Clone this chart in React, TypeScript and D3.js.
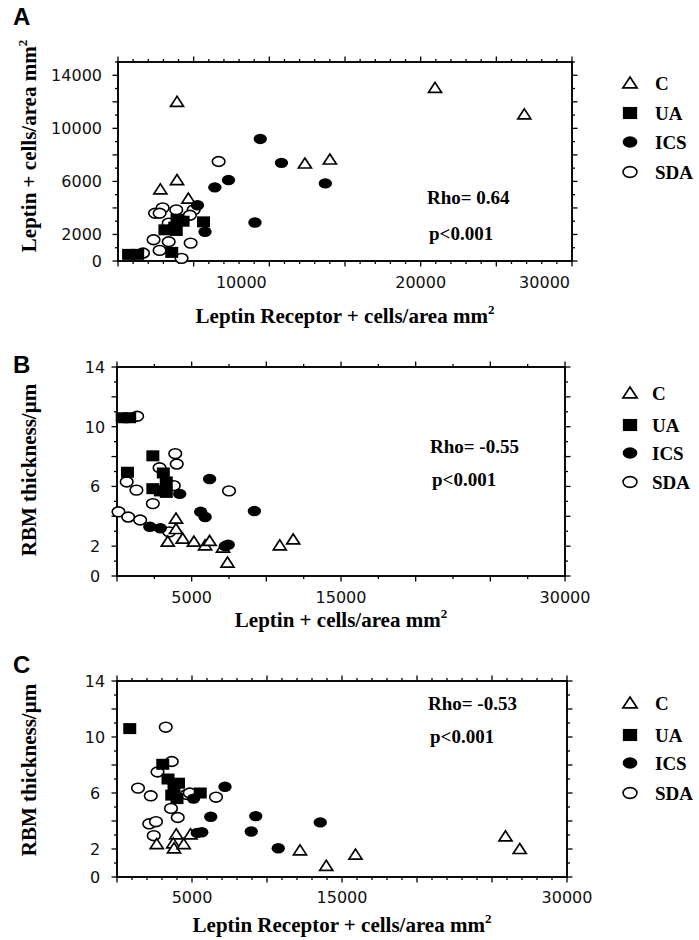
import React from "react";
import * as d3 from "d3";

type Pt = [number, number];

// ---------- DATA ----------
const groups = ["C", "UA", "ICS", "SDA"];

// Panel A: Leptin Receptor+ (x) vs Leptin+ (y), cells/area mm2
const aC: Pt[] = [[3900, 12000], [2800, 5400], [3900, 6100], [4650, 4700], [12350, 7350], [14000, 7650], [20950, 13050], [26850, 11050]];
const aUA: Pt[] = [[700, 500], [1300, 500], [3550, 650], [3100, 2350], [3750, 2550], [3900, 3150], [4300, 3000], [3850, 2300], [5650, 2950]];
const aICS: Pt[] = [[9400, 9200], [10800, 7400], [13700, 5850], [7300, 6100], [6400, 5550], [9050, 2900], [5250, 4200], [5750, 2200]];
const aSDA: Pt[] = [[6650, 7500], [2950, 4000], [2450, 3600], [2750, 3600], [3850, 3850], [5000, 3850], [4750, 3450], [3350, 2850], [2350, 1600], [3350, 1450], [4800, 1350], [2750, 800], [1650, 600], [4200, 200]];

// Panel B: Leptin+ (x) vs RBM thickness (y)
const bC: Pt[] = [[3950, 3.85], [3950, 3.15], [3400, 2.3], [4400, 2.5], [5150, 2.3], [5900, 2.05], [6200, 2.35], [7100, 1.9], [7400, 0.9], [10900, 2.05], [11800, 2.45]];
const bUA: Pt[] = [[350, 10.6], [850, 10.6], [700, 6.95], [2400, 8.05], [2400, 5.85], [3100, 6.9], [3300, 6.3], [3300, 5.6], [2900, 5.7]];
const bICS: Pt[] = [[6200, 6.5], [4200, 5.5], [5600, 4.3], [5900, 3.95], [9200, 4.35], [2200, 3.3], [2900, 3.2], [7450, 2.1], [7250, 2.0]];
const bSDA: Pt[] = [[1350, 10.7], [3900, 8.2], [4000, 7.5], [2850, 7.25], [650, 6.3], [1300, 5.75], [3800, 6.05], [2400, 4.85], [7500, 5.7], [100, 4.3], [750, 3.95], [1550, 3.75], [3500, 2.95]];

// Panel C: Leptin Receptor+ (x) vs RBM thickness (y)
const cC: Pt[] = [[2650, 2.35], [3950, 3.05], [3750, 2.4], [3800, 2.05], [4450, 2.35], [4900, 3.05], [12200, 1.9], [13950, 0.8], [15900, 1.6], [25900, 2.9], [26850, 2.0]];
const cUA: Pt[] = [[850, 10.6], [3050, 8.05], [3400, 7.0], [4100, 6.7], [3650, 5.85], [4000, 5.6], [5550, 6.0], [3800, 6.4]];
const cICS: Pt[] = [[7200, 6.45], [5100, 5.6], [6250, 4.3], [9250, 4.35], [13550, 3.9], [5650, 3.2], [5350, 3.15], [8950, 3.25], [10750, 2.05]];
const cSDA: Pt[] = [[3250, 10.7], [3650, 8.25], [2700, 7.5], [1400, 6.35], [2250, 5.8], [4650, 5.9], [4850, 6.0], [6600, 5.7], [3600, 4.9], [4050, 4.25], [2150, 3.8], [2600, 3.95], [2450, 2.95]];

const rhoTexts = ["Rho= 0.64", "Rho= -0.55", "Rho= -0.53"];
const pText = "p<0.001";

const aYTickLabels = [0, 2000, 6000, 10000, 14000];
const bcYTickLabels = [0, 2, 6, 10, 14];
const aXTickLabels = [10000, 20000, 30000];
const bcXTickLabels = [5000, 15000, 30000];

// ---------- LAYOUT / STYLE ----------
const SERIF = "'Liberation Serif', 'Times New Roman', serif";
const SANS = "'DejaVu Sans', Verdana, sans-serif";
const LSANS = "'Liberation Sans', Arial, sans-serif";

interface XLab { v: number; dx: number; anchor: string }
interface PanelCfg {
  letter: string; letterY: number;
  box: { l: number; r: number; t: number; b: number };
  yMax: number; yMajor: number; yMinor: number;
  xMajor: number; xMinor: number;
  yLabels: number[]; yLabX: number; yLabAnchor: string;
  xLabels: XLab[]; xLabY: number;
  xTitle: string; xTitleY: number;
  yTitle: string; yTitleCY: number;
  series: Pt[][];
  rho: string; rhoX: number; rhoY: number; pY: number;
  legendY: number[]; legendTX: number;
}

const panels: PanelCfg[] = [
  {
    letter: "A", letterY: 25,
    box: { l: 118, r: 572, t: 62, b: 261 },
    yMax: 15000, yMajor: 2000, yMinor: 1000, xMajor: 5000, xMinor: 1000,
    yLabels: aYTickLabels, yLabX: 102, yLabAnchor: "end",
    xLabels: [{ v: aXTickLabels[0], dx: -28, anchor: "middle" }, { v: aXTickLabels[1], dx: 0, anchor: "middle" }, { v: aXTickLabels[2], dx: -2, anchor: "end" }],
    xLabY: 288,
    xTitle: "Leptin Receptor + cells/area mm", xTitleY: 323,
    yTitle: "Leptin + cells/area mm", yTitleCY: 146,
    series: [aC, aUA, aICS, aSDA],
    rho: rhoTexts[0], rhoX: 427, rhoY: 204, pY: 240,
    legendY: [83, 113, 142, 172], legendTX: 655,
  },
  {
    letter: "B", letterY: 373,
    box: { l: 117, r: 565, t: 367, b: 576 },
    yMax: 14, yMajor: 2, yMinor: 1, xMajor: 5000, xMinor: 2500,
    yLabels: bcYTickLabels, yLabX: 95, yLabAnchor: "middle",
    xLabels: [{ v: bcXTickLabels[0], dx: 0, anchor: "middle" }, { v: bcXTickLabels[1], dx: 0, anchor: "middle" }, { v: bcXTickLabels[2], dx: 0, anchor: "middle" }],
    xLabY: 603,
    xTitle: "Leptin + cells/area mm", xTitleY: 627,
    yTitle: "RBM thickness/\u00b5m", yTitleCY: 470,
    series: [bC, bUA, bICS, bSDA],
    rho: rhoTexts[1], rhoX: 430, rhoY: 453, pY: 486,
    legendY: [393, 425, 453, 482], legendTX: 652,
  },
  {
    letter: "C", letterY: 673,
    box: { l: 117, r: 567, t: 681, b: 877 },
    yMax: 14, yMajor: 2, yMinor: 1, xMajor: 5000, xMinor: 1000,
    yLabels: bcYTickLabels, yLabX: 95, yLabAnchor: "middle",
    xLabels: [{ v: bcXTickLabels[0], dx: 0, anchor: "middle" }, { v: bcXTickLabels[1], dx: 0, anchor: "middle" }, { v: bcXTickLabels[2], dx: 0, anchor: "middle" }],
    xLabY: 903,
    xTitle: "Leptin Receptor + cells/area mm", xTitleY: 932,
    yTitle: "RBM thickness/\u00b5m", yTitleCY: 770,
    series: [cC, cUA, cICS, cSDA],
    rho: rhoTexts[2], rhoX: 428, rhoY: 710, pY: 743,
    legendY: [703, 735, 763, 793], legendTX: 655,
  },
];

function Marker({ kind, x, y, s = 1 }: { kind: number; x: number; y: number; s?: number }) {
  if (kind === 0) {
    const hw = 6.5 * s, h1 = 5.5 * s, h2 = 4.5 * s;
    return <path d={`M${x},${y - h1}L${x + hw},${y + h2}L${x - hw},${y + h2}Z`} fill="#fff" stroke="#000" strokeWidth={1.7} strokeLinejoin="miter" />;
  }
  if (kind === 1) {
    const w = 13 * s, h = 11 * s;
    return <rect x={x - w / 2} y={y - h / 2} width={w} height={h} fill="#000" />;
  }
  if (kind === 2) {
    return <ellipse cx={x} cy={y} rx={6.7 * s} ry={5.2 * s} fill="#000" />;
  }
  return <ellipse cx={x} cy={y} rx={6.3 * s} ry={4.9 * s} fill="#fff" stroke="#000" strokeWidth={1.6} />;
}

function Panel({ p }: { p: PanelCfg }) {
  const { l, r, t, b } = p.box;
  const x = d3.scaleLinear().domain([0, 30000]).range([l, r]);
  const y = d3.scaleLinear().domain([0, p.yMax]).range([b, t]);
  const xMinorT = d3.range(0, 30000 + 1, p.xMinor);
  const yMinorT = d3.range(0, p.yMax + 1e-9, p.yMinor);
  const isMajX = (v: number) => Math.abs(v / p.xMajor - Math.round(v / p.xMajor)) < 1e-6;
  const isMajY = (v: number) => Math.abs(v / p.yMajor - Math.round(v / p.yMajor)) < 1e-6;
  const MAJ = 5.5, MIN = 3;
  const drawOrder = [3, 0, 2, 1];
  return (
    <g>
      <text x={13} y={p.letterY} fontFamily={LSANS} fontWeight="bold" fontSize={24} fill="#000">{p.letter}</text>
      {xMinorT.map((v) => {
        const L = isMajX(v) ? MAJ : MIN;
        return (
          <g key={"xt" + v}>
            <line x1={x(v)} x2={x(v)} y1={b} y2={b + L} stroke="#000" strokeWidth={1.3} />
            <line x1={x(v)} x2={x(v)} y1={t} y2={t - L} stroke="#000" strokeWidth={1.3} />
          </g>
        );
      })}
      {yMinorT.map((v) => {
        const L = isMajY(v) ? MAJ : MIN;
        return (
          <g key={"yt" + v}>
            <line x1={l} x2={l - L} y1={y(v)} y2={y(v)} stroke="#000" strokeWidth={1.3} />
            <line x1={r} x2={r + L} y1={y(v)} y2={y(v)} stroke="#000" strokeWidth={1.3} />
          </g>
        );
      })}
      <rect x={l} y={t} width={r - l} height={b - t} fill="none" stroke="#000" strokeWidth={1.9} />
      {p.yLabels.map((v) => (
        <text key={"yl" + v} x={p.yLabX} y={y(v) + 6} textAnchor={p.yLabAnchor} fontFamily={SANS} fontSize={16} fill="#111">{v}</text>
      ))}
      {p.xLabels.map((o) => (
        <text key={"xl" + o.v} x={x(o.v) + o.dx} y={p.xLabY} textAnchor={o.anchor} fontFamily={SANS} fontSize={16} fill="#111">{o.v}</text>
      ))}
      <text x={(l + r) / 2} y={p.xTitleY} textAnchor="middle" fontFamily={SERIF} fontWeight="bold" fontSize={21} fill="#000">
        {p.xTitle}
        {p.xTitle.endsWith("mm") ? <tspan fontSize={13} dy={-9}>2</tspan> : null}
      </text>
      <text transform={`translate(36,${p.yTitleCY}) rotate(-90)`} textAnchor="middle" fontFamily={SERIF} fontWeight="bold" fontSize={21} fill="#000">
        {p.yTitle}
        {p.yTitle.endsWith("mm") ? <tspan fontSize={13} dy={-9}>2</tspan> : null}
      </text>
      {drawOrder.map((k) => (
        <g key={"s" + k}>
          {p.series[k].map((d, i) => (
            <Marker key={i} kind={k} x={x(d[0])} y={y(d[1])} />
          ))}
        </g>
      ))}
      <text x={p.rhoX} y={p.rhoY} fontFamily={SERIF} fontWeight="bold" fontSize={19} fill="#000">{p.rho}</text>
      <text x={p.rhoX + 2} y={p.pY} fontFamily={SERIF} fontWeight="bold" fontSize={19} fill="#000">{pText}</text>
      {groups.map((g, i) => (
        <g key={g}>
          <Marker kind={i} x={630} y={p.legendY[i]} s={1.1} />
          <text x={p.legendTX} y={p.legendY[i] + 7} fontFamily={SERIF} fontWeight="bold" fontSize={19} fill="#000">{g}</text>
        </g>
      ))}
    </g>
  );
}

export default function App() {
  return (
    <svg width={699} height={940} viewBox="0 0 699 940" style={{ position: "absolute", left: 0, top: 0, background: "#fff" }}>
      <rect width={699} height={940} fill="#fff" />
      {panels.map((p) => (
        <Panel key={p.letter} p={p} />
      ))}
    </svg>
  );
}
